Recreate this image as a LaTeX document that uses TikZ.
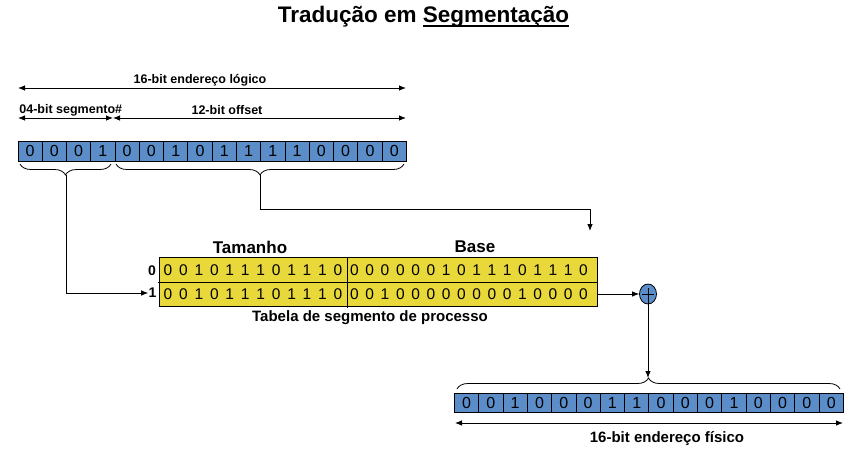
\documentclass[tikz,border=0pt]{standalone}
\usepackage{fontspec}
\setmainfont{Liberation Sans}
\usetikzlibrary{arrows.meta,decorations.pathreplacing,shapes.geometric,calc}
\definecolor{regblue}{RGB}{91,141,201}
\definecolor{tabyellow}{RGB}{232,216,58}
\newcommand\myunderline[1]{\setbox0\hbox{#1}\rlap{\rule[-4pt]{\wd0}{2pt}}\box0}
\begin{document}
\begin{tikzpicture}[x=1pt,y=-1pt,line width=0.8pt,
  tip/.style={{Latex[length=7pt,width=5.5pt]}-{Latex[length=7pt,width=5.5pt]}},
  onetip/.style={-{Latex[length=7pt,width=5.5pt]}},
  bitcell/.style={draw=black,fill=regblue,minimum width=24.28pt,minimum height=20pt,inner sep=0pt,anchor=north west,font=\fontsize{16}{16}\selectfont},
  bitcellb/.style={bitcell,minimum width=24.31pt,minimum height=19pt},
  tdig/.style={inner sep=0pt,font=\fontsize{15.5}{15.5}\selectfont},
  lbl/.style={inner sep=0pt,font=\bfseries\fontsize{12.5}{12.5}\selectfont},
  head/.style={inner sep=0pt,font=\bfseries\fontsize{17}{17}\selectfont},
  rowlbl/.style={inner sep=0pt,font=\bfseries\fontsize{14}{14}\selectfont},
  bracestyle/.style={decorate,decoration={brace,amplitude=11pt}},
]
\useasboundingbox (0,0) rectangle (851,450);
% title
\node[inner sep=0pt,anchor=base,font=\bfseries\fontsize{22.5}{22.5}\selectfont] (title) at (423.5,22.5) {Tradução em \myunderline{Segmentação}};
% logical address labels
\node[lbl] (loglbl) at (200,80) {16-bit endereço lógico};
\coordinate (la) at (18,88);
\coordinate (lb) at (406,88);
\draw[tip] (la) -- (lb);
\node[lbl,anchor=west] (seglbl) at (19,110) {04-bit segmento\#};
\node[lbl] (offlbl) at (227,110) {12-bit offset};
\coordinate (sa) at (18,118);
\coordinate (sm) at (113,118);
\coordinate (sb) at (406,118);
\draw[tip] (sa) -- (sm);
\draw[tip] (sm) -- (sb);
% logical register
\foreach \b [count=\i from 0] in {0,0,0,1,0,0,1,0,1,1,1,1,0,0,0,0}
  \node[bitcell] (l\i) at (17.5+\i*24.28,141) {\b};
% braces
\draw[bracestyle] (111,164) -- (20,164);
\draw[bracestyle] (404,164) -- (116,164);
\coordinate (lbt) at (66,175);
\coordinate (rbt) at (260,175);
% table
\node[draw=black,fill=tabyellow,minimum width=438pt,minimum height=49pt,inner sep=0pt,anchor=north west] (tab) at (159,257) {};
\coordinate (sepl) at (158,282);
\coordinate (sepr) at (597,282);
\draw (sepl) -- (sepr);
\coordinate (colt) at (347,257);
\coordinate (colb) at (347,308);
\draw (colt) -- (colb);
\node[head] (tam) at (250,247) {Tamanho};
\node[head] (base) at (475,247) {Base};
\node[rowlbl] (r0) at (152,271) {0};
\node[rowlbl] (r1) at (152.5,293) {1};
\foreach \d [count=\i from 0] in {0,0,1,0,1,1,1,0,1,1,1,0}
  \node[tdig] (ta\i) at (168+\i*15.45,270) {\d};
\foreach \d [count=\i from 0] in {0,0,1,0,1,1,1,0,1,1,1,0}
  \node[tdig] (tb\i) at (168+\i*15.45,294) {\d};
\foreach \d [count=\i from 0] in {0,0,0,0,0,0,1,0,1,1,1,0,1,1,1,0}
  \node[tdig] (ba\i) at (354.5+\i*15.27,270) {\d};
\foreach \d [count=\i from 0] in {0,0,1,0,0,0,0,0,0,0,0,1,0,0,0,0}
  \node[tdig] (bb\i) at (354.5+\i*15.27,294) {\d};
\node[inner sep=0pt,font=\bfseries\fontsize{15}{15}\selectfont] (tablbl) at (370,318) {Tabela de segmento de processo};
% connectors to table
\draw[onetip] (lbt) |- (r1.west);
\coordinate (bend) at (590,209);
\coordinate (dest) at (590,231);
\draw[onetip] (rbt) |- (bend) -- (dest);
% adder
\node[ellipse,draw=black,fill=regblue,minimum width=17pt,minimum height=20pt,inner sep=0pt] (plus) at (648,294) {};
\draw (plus.center) ++(-6,0) -- ++(12,0);
\draw (plus.center) ++(0,-6) -- ++(0,6);
\coordinate (tabout) at (597,294);
\draw[onetip] (tabout) -- (plus.west);
% bottom
\coordinate (bbt) at (648,378);
\draw[onetip] (plus.center) -- (bbt);
\draw[bracestyle] (457,389) -- (840,389);
\foreach \b [count=\i from 0] in {0,0,1,0,0,0,1,1,0,0,0,1,0,0,0,0}
  \node[bitcellb] (p\i) at (454+\i*24.31,393) {\b};
\coordinate (pa) at (455,423);
\coordinate (pb) at (843,423);
\draw[tip] (pa) -- (pb);
\node[inner sep=0pt,font=\bfseries\fontsize{15}{15}\selectfont] (physlbl) at (667,439) {16-bit endereço físico};
\end{tikzpicture}
\end{document}
